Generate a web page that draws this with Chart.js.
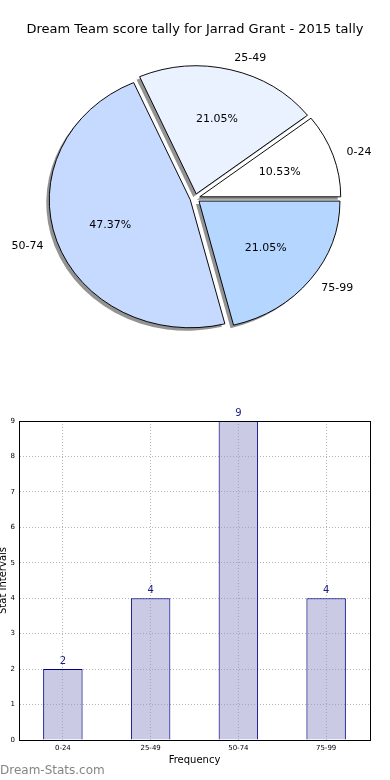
<!DOCTYPE html>
<html>
<head>
<meta charset="utf-8">
<title>Dream Team score tally</title>
<script src="https://cdn.jsdelivr.net/npm/chart.js@4.4.1/dist/chart.umd.min.js"></script>
<style>
  body { margin: 0; background: #fff; }
  #wrap { position: relative; width: 390px; height: 780px; overflow: hidden; }
  #pieChart { position: absolute; left: 0; top: 0; }
  #barChart { position: absolute; left: 0; top: 380px; }
  #watermark {
    position: absolute; left: 0; top: 763px;
    font: 12px 'DejaVu Sans', sans-serif; color: #858585;
  }
</style>
</head>
<body>
<div id="wrap">
  <canvas id="pieChart" width="390" height="380"></canvas>
  <canvas id="barChart" width="390" height="400"></canvas>
  <div id="watermark">Dream-Stats.com</div>
</div>
<script>
// --- Datos ---
const chartTitle = 'Dream Team score tally for Jarrad Grant - 2015 tally';
const categories = ['0-24', '25-49', '50-74', '75-99'];
const frequencies = [2, 4, 9, 4];
const yMax = 9;

const sliceColors = ['#ffffff', '#eaf1ff', '#c6d9ff', '#b4d6ff'];

Chart.defaults.font.family = "'DejaVu Sans', sans-serif";
Chart.defaults.color = '#000';

const total = frequencies.reduce((a, b) => a + b, 0);
const percents = frequencies.map(v => (v / total * 100).toFixed(2) + '%');

// the pie goes counter-clockwise from 3 o'clock, so feed it reversed and start at 90
const pieLabels = categories.slice().reverse();
const pieValues = frequencies.slice().reverse();
const piePercents = percents.slice().reverse();
const pieColors = sliceColors.slice().reverse();

const SQUASH = 128 / 141;   // pie is wider than it is tall
const EXPLODE = 5;          // px each slice is pushed out

// --- Plugins ---
const pieShape = {
    id: 'pieShape',
    afterDatasetsUpdate(chart) {
        chart.getDatasetMeta(0).data.forEach(arc => {
            const mid = (arc.startAngle + arc.endAngle) / 2;
            arc.x += Math.cos(mid) * EXPLODE;
            arc.y += Math.sin(mid) * EXPLODE;
        });
    },
    beforeDatasetsDraw(chart) {
        const ctx = chart.ctx;
        const { top, bottom } = chart.chartArea;
        const cy = (top + bottom) / 2;
        // drop shadow under every slice
        ctx.save();
        ctx.translate(-3, 3);
        ctx.translate(0, cy); ctx.scale(1, SQUASH); ctx.translate(0, -cy);
        ctx.fillStyle = 'rgba(40,40,40,0.5)';
        chart.getDatasetMeta(0).data.forEach(arc => {
            ctx.beginPath();
            ctx.moveTo(arc.x, arc.y);
            ctx.arc(arc.x, arc.y, arc.outerRadius, arc.startAngle, arc.endAngle);
            ctx.closePath();
            ctx.fill();
        });
        ctx.restore();
        // squash the slices themselves
        ctx.save();
        ctx.translate(0, cy); ctx.scale(1, SQUASH); ctx.translate(0, -cy);
    },
    afterDatasetsDraw(chart) {
        const ctx = chart.ctx;
        ctx.restore();
        const { top, bottom } = chart.chartArea;
        const cy = (top + bottom) / 2;
        ctx.save();
        ctx.font = "11px 'DejaVu Sans', sans-serif";
        ctx.fillStyle = '#000';
        ctx.textBaseline = 'middle';
        chart.getDatasetMeta(0).data.forEach((arc, i) => {
            const mid = (arc.startAngle + arc.endAngle) / 2;
            const c = Math.cos(mid), s = Math.sin(mid);
            const r = arc.outerRadius;
            const at = d => [arc.x + c * r * d, cy + (arc.y + s * r * d - cy) * SQUASH];
            const [px, py] = at(0.6);
            ctx.textAlign = 'center';
            ctx.fillText(piePercents[i], px, py);
            const [lx, ly] = at(1.1);
            ctx.textAlign = c > 0 ? 'left' : 'right';
            ctx.fillText(pieLabels[i], lx, ly + 1);
        });
        ctx.restore();
    }
};

const barValues = {
    id: 'barValues',
    afterDatasetsDraw(chart) {
        const ctx = chart.ctx;
        ctx.save();
        ctx.font = "10px 'DejaVu Sans', sans-serif";
        ctx.fillStyle = '#1c1c80';
        ctx.textAlign = 'center';
        ctx.textBaseline = 'alphabetic';
        chart.getDatasetMeta(0).data.forEach((bar, i) => {
            ctx.fillText(String(frequencies[i]), bar.x, bar.y - 5);
        });
        ctx.restore();
    }
};

const frame = {
    id: 'frame',
    afterDraw(chart) {
        const { left, top, right, bottom } = chart.chartArea;
        const ctx = chart.ctx;
        ctx.save();
        ctx.strokeStyle = '#000';
        ctx.lineWidth = 1;
        ctx.strokeRect(Math.round(left) + 0.5, Math.round(top) + 0.5,
            Math.round(right - left), Math.round(bottom - top));
        ctx.restore();
    }
};

// --- Pie ---
new Chart(document.getElementById('pieChart'), {
    type: 'pie',
    data: {
        labels: pieLabels,
        datasets: [{
            data: pieValues,
            backgroundColor: pieColors,
            borderColor: '#000',
            borderWidth: 1,
            radius: 141,
            rotation: 90
        }]
    },
    options: {
        responsive: false,
        animation: false,
        events: [],
        layout: { padding: { top: 0, bottom: 21, left: 0, right: 0 } },
        plugins: {
            legend: { display: false },
            tooltip: { enabled: false },
            title: {
                display: true,
                text: chartTitle,
                color: '#000',
                font: { size: 13, weight: 'normal', lineHeight: 1.2 },
                padding: { top: 22, bottom: 0 }
            }
        }
    },
    plugins: [pieShape]
});

// --- Barras ---
new Chart(document.getElementById('barChart'), {
    type: 'bar',
    data: {
        labels: categories,
        datasets: [{
            data: frequencies,
            backgroundColor: 'rgba(150,150,204,0.5)',
            borderColor: '#000080',
            borderWidth: 1,
            barPercentage: 0.45,
            categoryPercentage: 1
        }]
    },
    options: {
        responsive: false,
        animation: false,
        events: [],
        layout: { padding: { top: 41, right: 20, left: 0, bottom: 0 } },
        plugins: { legend: { display: false }, tooltip: { enabled: false } },
        scales: {
            x: {
                grid: { offset: false, color: '#b4b4b4', drawTicks: false },
                border: { color: '#000', width: 1, dash: [1, 2] },
                ticks: { font: { size: 7 }, padding: 4, maxRotation: 0 },
                title: { display: true, text: 'Frequency', font: { size: 10 }, padding: { top: 0, bottom: 14 } },
                afterFit(scale) { scale.height = 40; }
            },
            y: {
                min: 0,
                max: yMax,
                grid: { color: '#b4b4b4', drawTicks: false },
                border: { color: '#000', width: 1, dash: [1, 2] },
                ticks: { stepSize: 1, font: { size: 7 }, padding: 4 },
                title: { display: true, text: 'Stat Intervals', font: { size: 10, lineHeight: 0.7 }, padding: 0 },
                afterFit(scale) { scale.width = 19; }
            }
        }
    },
    plugins: [barValues, frame]
});
</script>
</body>
</html>
